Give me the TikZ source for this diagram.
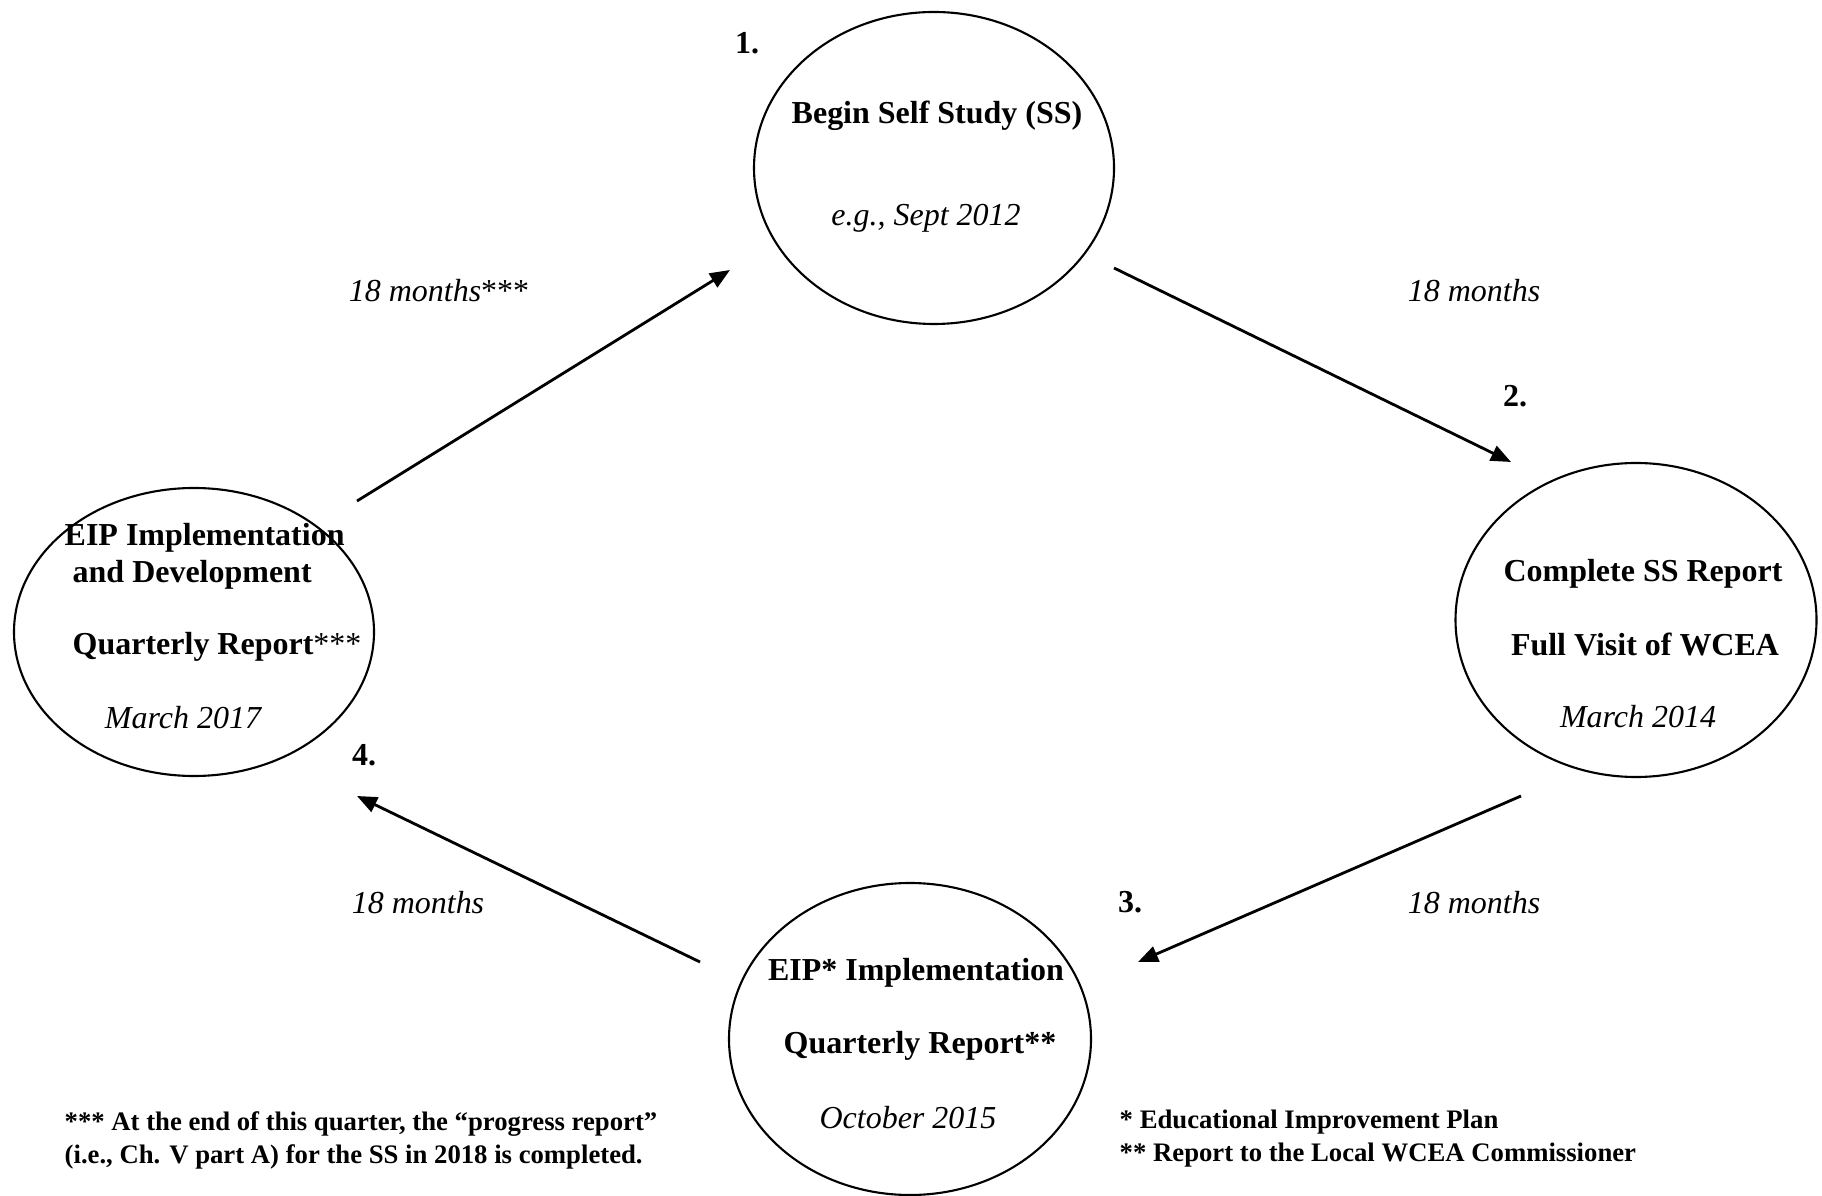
\documentclass[tikz,border=0pt]{standalone}
\usepackage{fontspec}
\setmainfont{Liberation Serif}
\usetikzlibrary{shapes.geometric,arrows.meta}
\tikzset{
  phase/.style={draw, ellipse, line width=0.6pt, inner sep=0pt},
  head/.style={font=\fontsize{9.1}{11}\selectfont\bfseries, inner sep=0pt},
  when/.style={font=\fontsize{9.1}{11}\selectfont\itshape, inner sep=0pt},
  note/.style={font=\fontsize{7.6}{9.4}\selectfont\bfseries, inner sep=0pt, align=left, anchor=west},
  flow/.style={->, line width=0.8pt}
}
\begin{document}
\begin{tikzpicture}[>={Triangle[length=0.2cm,width=0.16cm]}]
\useasboundingbox (0,0) rectangle (18.22,-11.96);
% the four phases of the cycle
\node [phase, minimum width=3.6cm, minimum height=3.12cm] (selfstudy) at (9.34,-1.68) {};
\node [phase, minimum width=3.61cm, minimum height=3.14cm] (ssreport) at (16.36,-6.20) {};
\node [phase, minimum width=3.62cm, minimum height=3.12cm] (eipq) at (9.10,-10.39) {};
\node [phase, minimum width=3.6cm, minimum height=2.88cm] (eipdev) at (1.94,-6.32) {};
% texts inside
\node [head] (t1a) at (9.37,-1.16) {Begin Self Study (SS)};
\node [when] (t1b) at (9.26,-2.18) {e.g., Sept 2012};
\node [head] (t2a) at (16.43,-5.74) {Complete SS Report};
\node [head] (t2b) at (16.45,-6.44) {Full Visit of WCEA};
\node [when] (t2c) at (16.38,-7.17) {March 2014};
\node [head] (t3a) at (9.16,-9.73) {EIP* Implementation};
\node [head] (t3b) at (9.20,-10.46) {Quarterly Report**};
\node [when] (t3c) at (9.08,-11.18) {October 2015};
\node [head, anchor=west] (t4a) at (0.64,-5.38) {EIP Implementation};
\node [head, anchor=west] (t4b) at (0.72,-5.75) {and Development};
\node [head, anchor=west] (t4c) at (0.72,-6.47) {Quarterly Report{\mdseries***}};
\node [when] (t4d) at (1.83,-7.18) {March 2017};
% step numbers
\node [head] (n1) at (7.47,-0.43) {1.};
\node [head] (n2) at (15.15,-3.96) {2.};
\node [head] (n3) at (11.30,-9.02) {3.};
\node [head] (n4) at (3.64,-7.55) {4.};
% durations
\node [when] (d1) at (4.39,-2.91) {18 months{\upshape***}};
\node [when] (d2) at (14.74,-2.91) {18 months};
\node [when] (d3) at (14.74,-9.03) {18 months};
\node [when] (d4) at (4.18,-9.03) {18 months};
% arrows
\draw [flow] ([xshift=1.63cm,yshift=1.31cm]eipdev.center) -- ([xshift=-2.04cm,yshift=-1.02cm]selfstudy.center);
\draw [flow] ([xshift=1.80cm,yshift=-1.00cm]selfstudy.center) -- ([xshift=-1.25cm,yshift=1.58cm]ssreport.center);
\draw [flow] ([xshift=-1.15cm,yshift=-1.76cm]ssreport.center) -- ([xshift=2.28cm,yshift=0.77cm]eipq.center);
\draw [flow] ([xshift=-2.10cm,yshift=0.77cm]eipq.center) -- ([xshift=1.63cm,yshift=-1.64cm]eipdev.center);
% footnotes
\node [note] (f1) at (0.64,-11.40) {*** At the end of this quarter, the ``progress report''\\(i.e., Ch. V part A) for the SS in 2018 is completed.};
\node [note] (f2) at (11.19,-11.39) {* Educational Improvement Plan\\** Report to the Local WCEA Commissioner};
\end{tikzpicture}
\end{document}
